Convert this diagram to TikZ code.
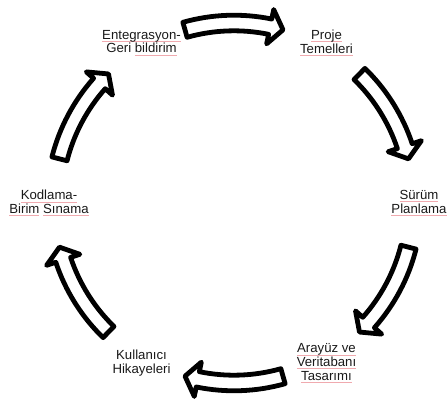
\documentclass[tikz,border=0pt]{standalone}
\usepackage{fontspec}
\setmainfont{Liberation Sans}
\definecolor{sqc}{RGB}{240,170,175}
\newcommand\sq[1]{\setbox0\hbox{#1}\rlap{\textcolor{sqc}{\rule[-2.8pt]{\wd0}{0.8pt}}}\box0\relax}
\tikzset{
  lbl/.style={align=center,inner sep=0pt,font=\fontsize{13.2}{13.7}\selectfont,text=black!90},
  blockarrow/.style={draw=black,fill=white,line width=4.8pt,line join=round}
}
\begin{document}
\begin{tikzpicture}[x=1pt,y=1pt]
\useasboundingbox (-234,-205) rectangle (214,203);
\node[lbl] (proje) at (60:185) {\sq{Proje}\\\sq{Temelleri}};
\node[lbl] (surum) at (0:185) {\sq{Sürüm}\\\sq{Planlama}};
\node[lbl] (arayuz) at (300:185) {\sq{Arayüz ve}\\\sq{Veritabanı}\\\sq{Tasarımı}};
\node[lbl] (kullanici) at (240:185) {Kullanıcı\\Hikayeleri};
\node[lbl] (kodlama) at (180:185) {\sq{Kodlama-}\\\sq{Birim} \sq{Sınama}};
\node[lbl] (entegrasyon) at (120:185) {\sq{Entegrasyon-}\\Geri \sq{bildirim}};
\foreach \m [evaluate=\m as \ta using \m+15.8,
             evaluate=\m as \hb using \m-11.6,
             evaluate=\m as \tp using \m-15.8] in {90,30,-30,-90,-150,150}{
  \draw[blockarrow] (\ta:187.8pt) arc[start angle=\ta, end angle=\hb, radius=187.8pt]
     -- (\hb:197.5pt) -- (\tp:180pt) -- (\hb:162.5pt) -- (\hb:172.2pt)
     arc[start angle=\hb, end angle=\ta, radius=172.2pt] -- cycle;
}
\end{tikzpicture}
\end{document}
